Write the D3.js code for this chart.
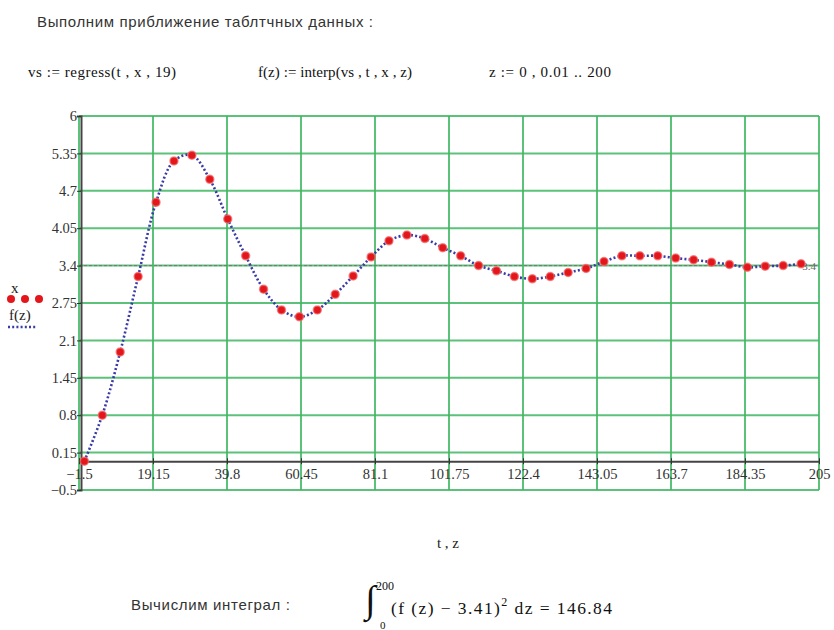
<!DOCTYPE html>
<html lang="ru">
<head>
  <meta charset="UTF-8">
  <title>regress / interp</title>
  <style>
    body { margin: 0; background: #fff; }
    .sans { font-family: "Liberation Sans", Arial, sans-serif; }
    .serif { font-family: "Liberation Serif", "Times New Roman", serif; }
  </style>
  <script src="https://d3js.org/d3.v7.min.js"></script>
</head>
<body>
  <div id="chart"></div>

  <script>
    // table values
    const tValues = [0, 5, 10, 15, 20, 25, 30, 35, 40, 45, 50, 55, 60, 65, 70, 75, 80, 85, 90, 95, 100,
                     105, 110, 115, 120, 125, 130, 135, 140, 145, 150, 155, 160, 165, 170, 175, 180, 185, 190, 195, 200];
    const xValues = [0.00, 0.80, 1.90, 3.21, 4.50, 5.22, 5.32, 4.90, 4.21, 3.57, 2.99, 2.63, 2.51, 2.63, 2.90, 3.22, 3.55,
                     3.83, 3.93, 3.87, 3.71, 3.57, 3.40, 3.31, 3.21, 3.17, 3.21, 3.28, 3.35, 3.47, 3.57, 3.57, 3.57,
                     3.53, 3.50, 3.46, 3.42, 3.37, 3.39, 3.40, 3.43];
    const xTicks = [-1.5, 19.15, 39.8, 60.45, 81.1, 101.75, 122.4, 143.05, 163.7, 184.35, 205];
    const yTicks = [-0.5, 0.15, 0.8, 1.45, 2.1, 2.75, 3.4, 4.05, 4.7, 5.35, 6];
    const markerY = 3.4;

    const width = 834, height = 630;
    const plot = { left: 79, right: 819, top: 116, bottom: 490 };

    const svg = d3.select("#chart").append("svg")
        .attr("width", width)
        .attr("height", height);

    const x = d3.scaleLinear().domain([xTicks[0], xTicks[xTicks.length - 1]]).range([plot.left, plot.right]);
    const y = d3.scaleLinear().domain([yTicks[0], yTicks[yTicks.length - 1]]).range([plot.bottom, plot.top]);

    const green = "#3fb662";
    const fmt = d => d3.format("")(d).replace("-", "−");

    // grid
    const grid = svg.append("g");
    grid.selectAll("line.h")
      .data(yTicks)
      .join("line")
        .attr("x1", plot.left).attr("x2", plot.right)
        .attr("y1", d => y(d)).attr("y2", d => y(d))
        .attr("stroke", green).attr("stroke-width", 2).attr("stroke-opacity", 0.85);
    grid.selectAll("line.v")
      .data(xTicks)
      .join("line")
        .attr("x1", d => x(d)).attr("x2", d => x(d))
        .attr("y1", plot.top).attr("y2", plot.bottom)
        .attr("stroke", green).attr("stroke-width", 2).attr("stroke-opacity", 0.85);

    // marker line at 3.4
    svg.append("line")
        .attr("x1", plot.left).attr("x2", plot.right)
        .attr("y1", y(markerY)).attr("y2", y(markerY))
        .attr("stroke", "#777").attr("stroke-width", 1)
        .attr("stroke-dasharray", "3,2");
    svg.append("text")
        .attr("class", "serif")
        .attr("x", plot.right - 3).attr("y", y(markerY) + 4)
        .attr("text-anchor", "end")
        .attr("font-size", 11)
        .attr("fill", "#666")
        .text("3.4");

    // y axis
    const yAxis = svg.append("g")
        .attr("transform", `translate(${plot.left + 2},0)`)
        .call(d3.axisLeft(y).tickValues(yTicks).tickSize(4).tickPadding(0).tickFormat(fmt));
    yAxis.select(".domain").attr("stroke", "#444").attr("stroke-width", 2);
    yAxis.selectAll(".tick line").attr("stroke", "#333");
    yAxis.selectAll("text")
        .attr("class", "serif")
        .attr("font-size", 14.5)
        .attr("fill", "#333");

    // x axis on y = 0
    const xAxis = svg.append("g")
        .attr("transform", `translate(0,${y(0)})`)
        .call(d3.axisBottom(x).tickValues(xTicks).tickSizeInner(3).tickSizeOuter(0).tickPadding(4).tickFormat(fmt));
    xAxis.select(".domain").attr("stroke", "#444").attr("stroke-width", 2);
    xAxis.selectAll(".tick line").attr("stroke", "#333").attr("y1", -3);
    xAxis.selectAll("text")
        .attr("class", "serif")
        .attr("font-size", 14.5)
        .attr("fill", "#333");

    // f(z) curve
    const pts = tValues.map((t, i) => [t, xValues[i]]);
    const line = d3.line()
        .x(d => x(d[0]))
        .y(d => y(d[1]))
        .curve(d3.curveCatmullRom.alpha(0.5));
    svg.append("path")
        .datum(pts)
        .attr("d", line)
        .attr("fill", "none")
        .attr("stroke", "#3b3ba8")
        .attr("stroke-width", 2.6)
        .attr("stroke-dasharray", "2,2.2");

    // x points
    svg.append("g")
      .selectAll("circle")
      .data(pts)
      .join("circle")
        .attr("cx", d => x(d[0]))
        .attr("cy", d => y(d[1]))
        .attr("r", 4)
        .attr("fill", "#e3161b")
        .attr("stroke", "#f36a6a")
        .attr("stroke-opacity", 0.7)
        .attr("stroke-width", 1.5);

    // legend
    const legend = svg.append("g");
    legend.append("text").attr("class", "serif").attr("x", 11).attr("y", 293)
        .attr("font-size", 15).attr("fill", "#222").text("x");
    legend.selectAll("circle")
      .data([11, 25, 39])
      .join("circle")
        .attr("cx", d => d).attr("cy", 299).attr("r", 4)
        .attr("fill", "#e3161b");
    legend.append("text").attr("class", "serif").attr("x", 9).attr("y", 320)
        .attr("font-size", 15).attr("fill", "#222").text("f(z)");
    legend.append("line")
        .attr("x1", 8).attr("x2", 37).attr("y1", 327).attr("y2", 327)
        .attr("stroke", "#3b3ba8").attr("stroke-width", 2.6).attr("stroke-dasharray", "2,2.2");

    // axis title
    svg.append("text").attr("class", "serif")
        .attr("x", 448).attr("y", 548)
        .attr("text-anchor", "middle")
        .attr("font-size", 15).attr("fill", "#222")
        .text("t , z");

    // header texts
    svg.append("text").attr("class", "sans")
        .attr("x", 37).attr("y", 27)
        .attr("font-size", 15).attr("fill", "#333")
        .attr("textLength", 336).attr("lengthAdjust", "spacing")
        .text("Выполним приближение таблтчных данных :");

    const formulas = [
      { x: 28, w: 148, text: "vs := regress(t , x , 19)" },
      { x: 258, w: 154, text: "f(z) := interp(vs , t , x , z)" },
      { x: 489, w: 122, text: "z := 0 , 0.01 .. 200" }
    ];
    svg.selectAll("text.formula")
      .data(formulas)
      .join("text")
        .attr("class", "serif formula")
        .attr("x", d => d.x).attr("y", 77)
        .attr("font-size", 15).attr("fill", "#111")
        .attr("textLength", d => d.w).attr("lengthAdjust", "spacing")
        .text(d => d.text);

    // integral
    svg.append("text").attr("class", "sans")
        .attr("x", 131).attr("y", 610)
        .attr("font-size", 15).attr("fill", "#333")
        .attr("textLength", 159).attr("lengthAdjust", "spacing")
        .text("Вычислим интеграл :");
    svg.append("text").attr("class", "serif")
        .attr("x", 365).attr("y", 612)
        .attr("font-size", 38).attr("fill", "#111")
        .text("∫");
    svg.append("text").attr("class", "serif")
        .attr("x", 376).attr("y", 590)
        .attr("font-size", 12).attr("fill", "#111")
        .text("200");
    svg.append("text").attr("class", "serif")
        .attr("x", 380).attr("y", 629)
        .attr("font-size", 11).attr("fill", "#111")
        .text("0");
    const expr = svg.append("text").attr("class", "serif")
        .attr("x", 391).attr("y", 614)
        .attr("font-size", 17.5).attr("fill", "#111")
        .attr("textLength", 221).attr("lengthAdjust", "spacing");
    expr.append("tspan").text("(f (z) − 3.41)");
    expr.append("tspan").attr("dy", -8).attr("font-size", 12).text("2");
    expr.append("tspan").attr("dy", 8).text(" dz  =  146.84");
  </script>
</body>
</html>
